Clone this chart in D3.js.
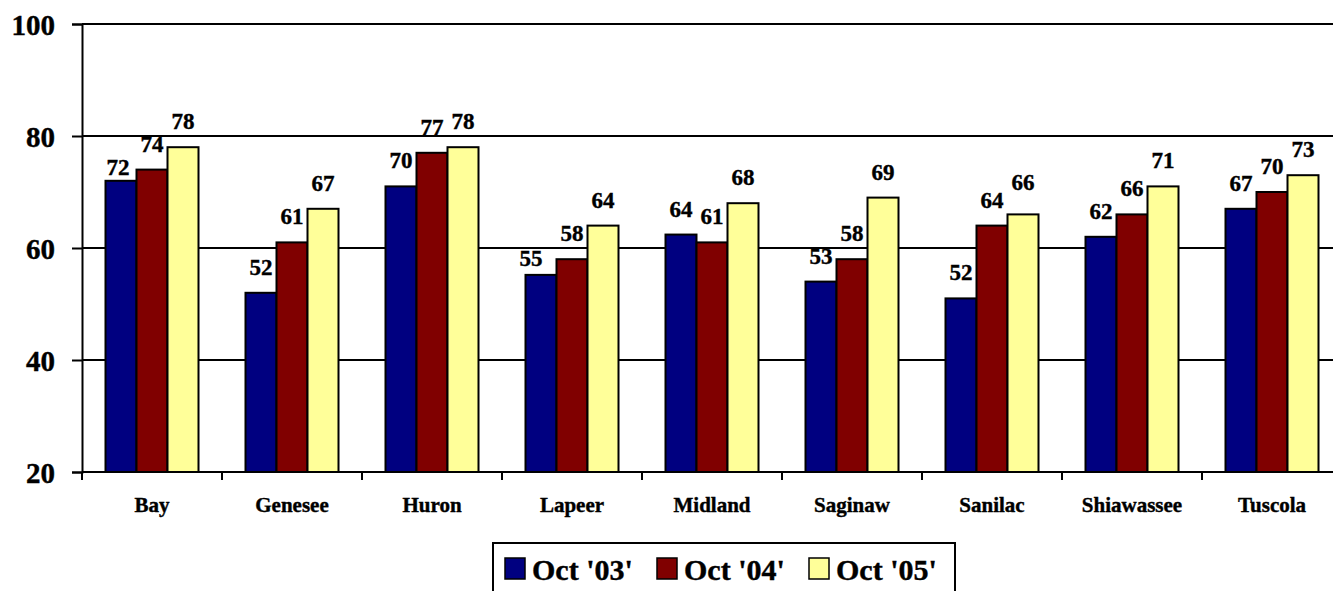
<!DOCTYPE html>
<html>
<head>
<meta charset="utf-8">
<script src="https://cdn.jsdelivr.net/npm/d3@7"></script>
<style>
	body { margin: 0; background: #fff; }
	svg { display: block; }
	text { font-family: "Liberation Serif", "Times New Roman", serif; font-weight: bold; fill: #000; stroke: #000; stroke-width: 0.4px; }
</style>
</head>
<body>
<svg id="chart" width="1333" height="591"></svg>
<script>

var counties = ["Bay", "Genesee", "Huron", "Lapeer", "Midland", "Saginaw", "Sanilac", "Shiawassee", "Tuscola"];
var seriesNames = ["Oct '03'", "Oct '04'", "Oct '05'"];

// bar heights as drawn (a few differ slightly from their printed labels)
var oct03 = [72, 52, 71, 55.2, 62.4, 54, 51, 62, 67];
var oct04 = [74, 61, 77, 58, 61, 58, 64, 66, 70];
var oct05 = [78, 67, 78, 64, 68, 69, 66, 71, 73];

// printed data labels
var oct03Labels = [72, 52, 70, 55, 64, 53, 52, 62, 67];
var oct04Labels = [74, 61, 77, 58, 61, 58, 64, 66, 70];
var oct05Labels = [78, 67, 78, 64, 68, 69, 66, 71, 73];

var yTicks = [20, 40, 60, 80, 100];

var colors = ["#000080", "#800000", "#FFFF99"];

var series = [
	{name: seriesNames[0], values: oct03, labels: oct03Labels},
	{name: seriesNames[1], values: oct04, labels: oct04Labels},
	{name: seriesNames[2], values: oct05, labels: oct05Labels}
];

var svg = d3.select("#chart");

var plotLeft = 82, plotRight = 1342, plotTop = 24, plotBottom = 472;

var y = d3.scaleLinear().domain([20, 100]).range([plotBottom, plotTop]);

var x0 = d3.scaleBand()
	.domain(counties)
	.range([plotLeft, plotRight])
	.paddingInner(47 / 140)
	.paddingOuter(47 / 280);

var x1 = d3.scaleBand()
	.domain(d3.range(series.length))
	.range([0, x0.bandwidth()]);

var step = x0.step();

// Gridlines
svg.append("g")
	.selectAll("line")
	.data(yTicks.filter(function (t) { return t > 20; }))
	.enter().append("line")
	.attr("x1", plotLeft)
	.attr("x2", plotRight)
	.attr("y1", function (d) { return y(d); })
	.attr("y2", function (d) { return y(d); })
	.attr("stroke", "#000")
	.attr("stroke-width", 2);

// Bars
var rows = [];
counties.forEach(function (c, i) {
	series.forEach(function (s, j) {
		rows.push({county: c, s: j, value: s.values[i], label: s.labels[i]});
	});
});

svg.append("g")
	.selectAll("rect")
	.data(rows)
	.enter().append("rect")
	.attr("x", function (d) { return x0(d.county) + x1(d.s); })
	.attr("y", function (d) { return y(d.value); })
	.attr("width", x1.bandwidth())
	.attr("height", function (d) { return y(20) - y(d.value); })
	.attr("fill", function (d) { return colors[d.s]; })
	.attr("stroke", "#000")
	.attr("stroke-width", 2);

// labels that were moved by hand in the original
var nudge = {"Bay|0": [-3, 12], "Lapeer|0": [-10, 9], "Sanilac|2": [0, -6]};

svg.append("g")
	.selectAll("text")
	.data(rows)
	.enter().append("text")
	.attr("x", function (d) {
		var n = nudge[d.county + "|" + d.s] || [0, 0];
		return x0(d.county) + x1(d.s) + x1.bandwidth() / 2 + n[0];
	})
	.attr("y", function (d) {
		var n = nudge[d.county + "|" + d.s] || [0, 0];
		return y(d.value) - 18 + n[1];
	})
	.style("font-size", "23px")
	.style("text-anchor", "middle")
	.text(function (d) { return d.label; });

// Y axis
var yAxis = svg.append("g")
	.attr("transform", "translate(" + plotLeft + ",0)")
	.call(d3.axisLeft(y).tickValues(yTicks).tickSize(10).tickPadding(17));

yAxis.select(".domain").attr("stroke", "#000").attr("stroke-width", 2);
yAxis.selectAll(".tick line").attr("stroke", "#000").attr("stroke-width", 2);
yAxis.selectAll(".tick text")
	.attr("dy", "0.37em")
	.style("font-size", "29px")
	.style("font-family", "'Liberation Serif', 'Times New Roman', serif")
	.style("font-weight", "bold");

// X axis
svg.append("line")
	.attr("x1", plotLeft)
	.attr("x2", plotRight)
	.attr("y1", plotBottom)
	.attr("y2", plotBottom)
	.attr("stroke", "#000")
	.attr("stroke-width", 2);

svg.append("g")
	.selectAll("line")
	.data(d3.range(counties.length + 1))
	.enter().append("line")
	.attr("x1", function (i) { return plotLeft + i * step; })
	.attr("x2", function (i) { return plotLeft + i * step; })
	.attr("y1", plotBottom)
	.attr("y2", plotBottom + 8)
	.attr("stroke", "#000")
	.attr("stroke-width", 2);

svg.append("g")
	.selectAll("text")
	.data(counties)
	.enter().append("text")
	.attr("x", function (d) { return x0(d) + x0.bandwidth() / 2; })
	.attr("y", 512)
	.style("font-size", "21px")
	.style("text-anchor", "middle")
	.text(function (d) { return d; });

// Legend
var legend = svg.append("g").attr("transform", "translate(493,543)");

legend.append("rect")
	.attr("x", 0)
	.attr("y", 0)
	.attr("width", 462)
	.attr("height", 60)
	.attr("fill", "#fff")
	.attr("stroke", "#000")
	.attr("stroke-width", 2);

var items = legend.selectAll("g.item")
	.data(series)
	.enter().append("g")
	.attr("class", "item")
	.attr("transform", function (d, i) { return "translate(" + (12 + i * 152) + ",0)"; });

items.append("rect")
	.attr("x", 0)
	.attr("y", 15)
	.attr("width", 20)
	.attr("height", 21)
	.attr("fill", function (d, i) { return colors[i]; })
	.attr("stroke", "#000")
	.attr("stroke-width", 1.5);

items.append("text")
	.attr("x", 27)
	.attr("y", 37)
	.style("font-size", "30px")
	.text(function (d) { return d.name; });

</script>
</body>
</html>
